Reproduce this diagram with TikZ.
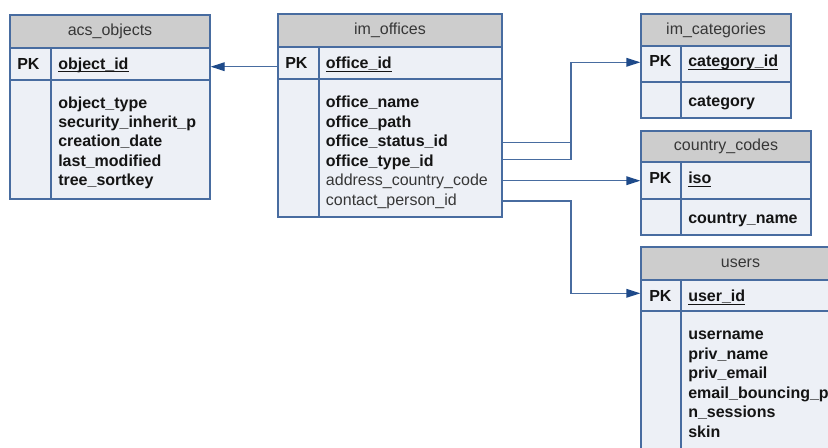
\documentclass[tikz,border=0pt]{standalone}
\usepackage{fontspec}
\setmainfont{Liberation Sans}
\usetikzlibrary{fit,arrows.meta}

\definecolor{hdrfill}{RGB}{205,205,205}
\definecolor{bodyfill}{RGB}{237,240,246}
\definecolor{edgeblue}{RGB}{72,108,160}
\definecolor{tipblue}{RGB}{30,74,138}
\definecolor{ink}{RGB}{20,20,20}
\definecolor{softink}{RGB}{55,55,55}

\newcommand\fieldfont{\fontsize{12}{14}\selectfont}
% primary key names: underline drawn close under the baseline
\newcommand\ulkey[1]{\setbox0\hbox{#1}\rlap{\rule[-2.4pt]{\wd0}{0.75pt}}\box0}

% table: name, x1, y1, x2, y2, header bottom, key row bottom, column divider, title
\newcommand\erdbox[9]{%
  \fill[hdrfill] (#2,#3) rectangle (#4,#6);
  \fill[bodyfill] (#2,#6) rectangle (#4,#5);
  \draw[rowline] (#2,#6) -- (#4,#6) (#2,#7) -- (#4,#7) (#8,#6) -- (#8,#5);
  \node[tablebox, fit={(#2,#3) (#4,#5)}] (#1) {};
  \node[titletext] (#1-title) at ({(#2+#4)/2},{(#3+#6)/2}) {#9};
}

\begin{document}
\begin{tikzpicture}[x=0.75pt,y=-0.75pt,
  rowline/.style={draw=edgeblue, line width=1pt},
  tablebox/.style={draw=edgeblue, line width=1pt, inner sep=0pt},
  titletext/.style={inner sep=0pt, font=\fieldfont, text=softink},
  fieldtxt/.style={inner sep=0pt, anchor=base west, font=\fieldfont\bfseries, text=ink},
  plaintxt/.style={fieldtxt, font=\fieldfont, text=softink},
  wire/.style={draw=edgeblue, line width=1pt},
  fk/.style={wire, -{Triangle[length=10.5pt, width=6.5pt, color=tipblue]}},
]
\clip (0,0) rectangle (828,447);
\fill[white] (0,0) rectangle (828,447);

% ---- tables ----
\erdbox{acs}{10}{15}{210}{199}{48}{80}{51}{acs\_objects}
\erdbox{offices}{278}{14}{502}{217}{47}{79}{319}{im\_offices}
\erdbox{cats}{641}{14}{791}{118}{46}{82}{681}{im\_categories}
\erdbox{codes}{641}{131}{811}{235}{162}{199}{681}{country\_codes}
\erdbox{users}{641}{247}{840}{470}{280}{311}{681}{users}

% acs_objects
\node[fieldtxt] (acs-pk) at (17,69) {PK};
\node[fieldtxt] (acs-key) at (58,69) {\ulkey{object\_id}};
\node[fieldtxt] (acs-f1) at (58,108.3) {object\_type};
\node[fieldtxt] (acs-f2) at (58,127.6) {security\_inherit\_p};
\node[fieldtxt] (acs-f3) at (58,146.9) {creation\_date};
\node[fieldtxt] (acs-f4) at (58,166.2) {last\_modified};
\node[fieldtxt] (acs-f5) at (58,185.5) {tree\_sortkey};

% im_offices
\node[fieldtxt] (off-pk) at (285,68.4) {PK};
\node[fieldtxt] (off-key) at (325.7,68.4) {\ulkey{office\_id}};
\node[fieldtxt] (off-f1) at (325.7,107.5) {office\_name};
\node[fieldtxt] (off-f2) at (325.7,127.1) {office\_path};
\node[fieldtxt] (off-f3) at (325.7,146.7) {office\_status\_id};
\node[fieldtxt] (off-f4) at (325.7,166.3) {office\_type\_id};
\node[plaintxt] (off-f5) at (325.7,185.9) {address\_country\_code};
\node[plaintxt] (off-f6) at (325.7,205.5) {contact\_person\_id};

% im_categories
\node[fieldtxt] (cat-pk) at (649,66.7) {PK};
\node[fieldtxt] (cat-key) at (688,66.7) {\ulkey{category\_id}};
\node[fieldtxt] (cat-f1) at (688,106.7) {category};

% country_codes
\node[fieldtxt] (cc-pk) at (649,183.3) {PK};
\node[fieldtxt] (cc-key) at (688,183.3) {\ulkey{iso}};
\node[fieldtxt] (cc-f1) at (688,223.3) {country\_name};

% users
\node[fieldtxt] (usr-pk) at (649,301.3) {PK};
\node[fieldtxt] (usr-key) at (688,301.3) {\ulkey{user\_id}};
\node[fieldtxt] (usr-f1) at (688,339.7) {username};
\node[fieldtxt] (usr-f2) at (688,359.2) {priv\_name};
\node[fieldtxt] (usr-f3) at (688,378.7) {priv\_email};
\node[fieldtxt] (usr-f4) at (688,398.2) {email\_bouncing\_p};
\node[fieldtxt] (usr-f5) at (688,417.7) {n\_sessions};
\node[fieldtxt] (usr-f6) at (688,437.2) {skin};

% ---- foreign keys ----
\coordinate (jx) at (571,0);
\draw[fk] (offices.west |- 0,66.7) -- (acs.east |- 0,66.7);
\draw[wire] (offices.east |- 0,142.7) -- (jx |- 0,142.7);
\draw[fk] (offices.east |- 0,159.3) -| (jx |- 0,62.3) -- (cats.west |- 0,62.3);
\draw[fk] (offices.east |- 0,180.7) -- (codes.west |- 0,180.7);
\draw[fk] (offices.east |- 0,201) -| (jx |- 0,293.3) -- (users.west |- 0,293.3);
\end{tikzpicture}
\end{document}
